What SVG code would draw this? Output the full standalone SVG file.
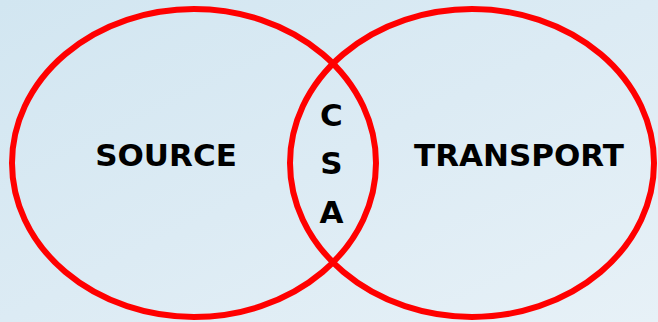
<svg xmlns="http://www.w3.org/2000/svg" width="658" height="322" viewBox="0 0 658 322">
  <defs>
    <linearGradient id="sky" x1="0" y1="0" x2="1" y2="1">
      <stop offset="0" stop-color="#d2e6f1"/>
      <stop offset="0.5" stop-color="#dcebf4"/>
      <stop offset="1" stop-color="#e7f1f7"/>
    </linearGradient>
    <style>
      .ring { fill: none; stroke: #ff0000; stroke-width: 6; }
      .label { font-family: "DejaVu Sans", Verdana, sans-serif; font-weight: bold; font-size: 31px; fill: #000; text-anchor: middle; }
    </style>
  </defs>
  <rect width="658" height="322" fill="url(#sky)"/>
  <g id="source">
    <ellipse class="ring" cx="194" cy="163" rx="182" ry="154"/>
    <text class="label" x="166" y="166">SOURCE</text>
  </g>
  <g id="transport">
    <ellipse class="ring" cx="472" cy="163" rx="182" ry="154"/>
    <text class="label" x="519" y="166">TRANSPORT</text>
  </g>
  <g id="csa">
    <text class="label" x="331.5" y="126">C</text>
    <text class="label" x="331.5" y="174">S</text>
    <text class="label" x="331.5" y="223">A</text>
  </g>
  <g id="connectors"/>
</svg>
